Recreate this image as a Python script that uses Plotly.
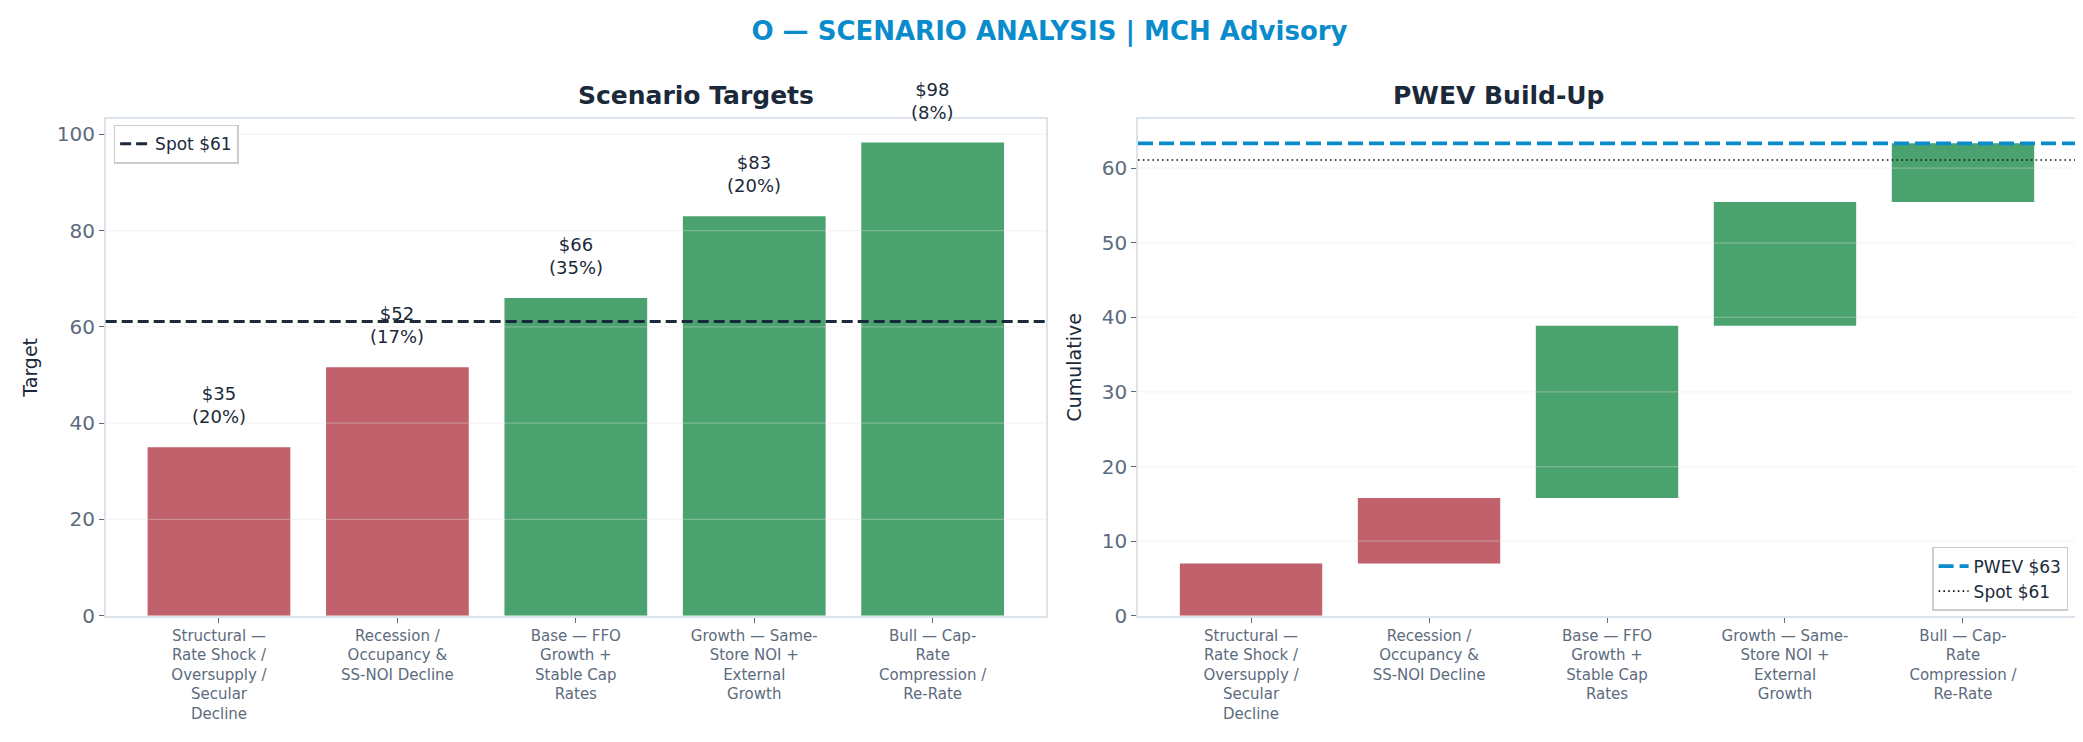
import plotly.graph_objects as go

# scenario data
scenarios = [
    "Structural —<br>Rate Shock /<br>Oversupply /<br>Secular<br>Decline",
    "Recession /<br>Occupancy &<br>SS-NOI Decline",
    "Base — FFO<br>Growth +<br>Stable Cap<br>Rates",
    "Growth — Same-<br>Store NOI +<br>External<br>Growth",
    "Bull — Cap-<br>Rate<br>Compression /<br>Re-Rate",
]
targets = [35.0, 51.6, 66.0, 83.0, 98.3]
probs = [20, 17, 35, 20, 8]
spot = 61.1

y1_ticks = [0, 20, 40, 60, 80, 100]
y2_ticks = [0, 10, 20, 30, 40, 50, 60]

RED = "#c0616b"
GREEN = "#4aa26e"
DARK = "#1b2a3a"
SLATE = "#5c6b7d"
BLUE = "#0a8bcb"
SPINE = "#dde3ea"
FONT = "DejaVu Sans"

# waterfall build-up: probability weighted contributions
contrib = [t * p / 100 for t, p in zip(targets, probs)]
bases = []
run = 0
for c in contrib:
    bases.append(run)
    run += c
pwev = run

colors = [RED if t < spot else GREEN for t in targets]
xs = list(range(len(scenarios)))

fig = go.Figure()
fig.add_trace(go.Bar(x=xs, y=targets, marker=dict(color=colors, line_width=0),
                     width=0.8, showlegend=False, xaxis="x", yaxis="y", hoverinfo="skip"))
fig.add_trace(go.Bar(x=xs, y=contrib, base=bases, marker=dict(color=colors, line_width=0),
                     width=0.8, showlegend=False, xaxis="x2", yaxis="y2", hoverinfo="skip"))

# grid drawn over the bars, like the original
shapes = []
for v in y1_ticks[1:]:
    shapes.append(dict(type="line", xref="x domain", yref="y", x0=0, x1=1, y0=v, y1=v,
                       layer="above", line=dict(color="rgba(224,224,224,0.35)", width=1.3)))
for v in y2_ticks[1:]:
    shapes.append(dict(type="line", xref="x2 domain", yref="y2", x0=0, x1=1, y0=v, y1=v,
                       layer="above", line=dict(color="rgba(224,224,224,0.35)", width=1.3)))

shapes.append(dict(type="line", xref="x domain", yref="y", x0=0, x1=1, y0=spot, y1=spot,
                   layer="above", line=dict(color=DARK, width=3, dash="11px,5px"),
                   showlegend=True, name=f"Spot ${spot:.0f}", legend="legend"))
shapes.append(dict(type="line", xref="x2 domain", yref="y2", x0=0, x1=1, y0=pwev, y1=pwev,
                   layer="above", line=dict(color=BLUE, width=3.7, dash="15px,6px"),
                   showlegend=True, name=f"PWEV ${pwev:.0f}", legend="legend2"))
shapes.append(dict(type="line", xref="x2 domain", yref="y2", x0=0, x1=1, y0=spot, y1=spot,
                   layer="above", line=dict(color="#111111", width=1.6, dash="1.6px,3.2px"),
                   showlegend=True, name=f"Spot ${spot:.0f}", legend="legend2"))

annotations = []
for i, (t, p) in enumerate(zip(targets, probs)):
    annotations.append(dict(x=i, y=t, xref="x", yref="y", text=f"${t:.0f}<br>({p}%)",
                            showarrow=False, yanchor="bottom", yshift=18,
                            font=dict(family=FONT, size=18, color=DARK)))
annotations.append(dict(x=(0.0469 + 0.4983) / 2, y=0.880, xref="paper", yref="paper",
                        text="<b>Scenario Targets</b>", showarrow=False, yanchor="middle",
                        font=dict(family=FONT, size=25, color=DARK)))
annotations.append(dict(x=(0.5425 + 0.9928) / 2, y=0.880, xref="paper", yref="paper",
                        text="<b>PWEV Build-Up</b>", showarrow=False, yanchor="middle",
                        font=dict(family=FONT, size=25, color=DARK)))

axis_common = dict(showline=True, linecolor=SPINE, linewidth=1.6, mirror=True,
                   showgrid=False, zeroline=False, ticks="outside", ticklen=5,
                   tickcolor=SLATE, tickwidth=1.3)

xaxis_common = dict(axis_common, tickvals=xs, ticktext=scenarios, range=[-0.635, 4.635],
                    tickfont=dict(family=FONT, size=15, color=SLATE))

fig.update_layout(
    width=2083, height=742,
    margin=dict(l=0, r=0, t=0, b=0),
    paper_bgcolor="white", plot_bgcolor="white",
    font=dict(family=FONT, color=DARK),
    title=dict(text="<b>O — SCENARIO ANALYSIS | MCH Advisory</b>", x=0.5, xanchor="center",
               y=0.969, yanchor="middle", font=dict(family=FONT, size=26, color="#0a8ccc")),
    xaxis=dict(xaxis_common, domain=[0.0469, 0.4983], anchor="y"),
    yaxis=dict(axis_common, domain=[0.1675, 0.848], anchor="x", range=[0, 103.2],
               tickvals=y1_ticks, tickfont=dict(family=FONT, size=20, color=SLATE),
               title=dict(text="Target", standoff=14, font=dict(family=FONT, size=19, color=DARK))),
    xaxis2=dict(xaxis_common, domain=[0.5425, 0.9928], anchor="y2"),
    yaxis2=dict(axis_common, domain=[0.1675, 0.848], anchor="x2", range=[0, 66.6],
                tickvals=y2_ticks, tickfont=dict(family=FONT, size=20, color=SLATE),
                title=dict(text="Cumulative", standoff=15, font=dict(family=FONT, size=19, color=DARK))),
    shapes=shapes,
    annotations=annotations,
    legend=dict(x=0.0507, y=0.840, xref="paper", yref="paper", xanchor="left", yanchor="top",
                bgcolor="white", bordercolor="#cccccc", borderwidth=1.5,
                font=dict(family=FONT, size=17, color=DARK), itemwidth=30),
    legend2=dict(x=0.989, y=0.174, xref="paper", yref="paper", xanchor="right", yanchor="bottom",
                 bgcolor="white", bordercolor="#cccccc", borderwidth=1.5,
                 font=dict(family=FONT, size=17, color=DARK), itemwidth=30),
    bargap=0.2,
)

fig.write_html("out.html")
